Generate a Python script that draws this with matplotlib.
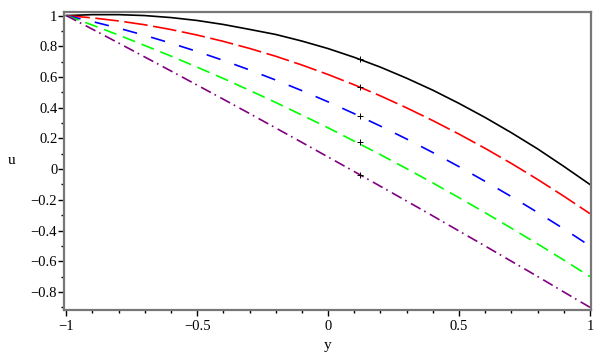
import matplotlib
matplotlib.use("Agg")
import matplotlib.pyplot as plt
from matplotlib.ticker import MultipleLocator, FixedLocator
import numpy as np

yVals = [-1.0, -0.9, -0.8, -0.7, -0.6, -0.5, -0.4, -0.3, -0.2, -0.1, 0.0,
         0.1, 0.2, 0.3, 0.4, 0.5, 0.6, 0.7, 0.8, 0.9, 1.0]

# u values for each curve
uBlack = [1.000, 1.006, 1.006, 1.000, 0.987, 0.968, 0.942, 0.910, 0.877, 0.834, 0.785,
          0.728, 0.664, 0.592, 0.514, 0.428, 0.336, 0.237, 0.132, 0.018, -0.100]
uRed = [1.000, 0.985, 0.965, 0.940, 0.909, 0.873, 0.832, 0.786, 0.735, 0.678, 0.616,
        0.549, 0.477, 0.399, 0.316, 0.228, 0.135, 0.037, -0.067, -0.176, -0.290]
uBlue = [1.000, 0.961, 0.918, 0.871, 0.820, 0.766, 0.708, 0.646, 0.580, 0.511, 0.438,
         0.361, 0.280, 0.196, 0.108, 0.016, -0.080, -0.179, -0.282, -0.389, -0.500]
uGreen = [1.000, 0.938, 0.873, 0.805, 0.736, 0.664, 0.590, 0.513, 0.434, 0.352, 0.269,
          0.182, 0.094, 0.003, -0.090, -0.186, -0.284, -0.385, -0.487, -0.592, -0.700]
uPurple = [1.000, 0.911, 0.821, 0.730, 0.639, 0.547, 0.455, 0.362, 0.268, 0.174, 0.079,
           -0.016, -0.112, -0.208, -0.305, -0.403, -0.501, -0.600, -0.699, -0.800, -0.900]

# little cross marks on each curve
markY = 0.12
markU = [0.72, 0.535, 0.345, 0.174, -0.039]

xTicks = [-1, -0.5, 0, 0.5, 1]
xTickLabels = ["\u22121", "\u22120.5", "0", "0.5", "1"]
yTicks = [-0.8, -0.6, -0.4, -0.2, 0, 0.2, 0.4, 0.6, 0.8, 1]
yTickLabels = ["\u22120.8", "\u22120.6", "\u22120.4", "\u22120.2", "0",
               "0.2", "0.4", "0.6", "0.8", "1"]

plt.rcParams['font.family'] = ['Liberation Serif', 'DejaVu Serif']
plt.rcParams['lines.scale_dashes'] = False

fig = plt.figure(figsize=(6.0, 3.53), dpi=100)
ax = fig.add_axes([0.107, 0.122, 0.878, 0.843])

lw = 1.2
ax.plot(yVals, uBlack, color='black', lw=lw)
ax.plot(yVals, uRed, color='#ff0000', lw=lw, dashes=(17, 4))
ax.plot(yVals, uBlue, color='#0000ff', lw=lw, dashes=(10.5, 10.5))
ax.plot(yVals, uGreen, color='#00ff00', lw=lw, dashes=(9.5, 5))
ax.plot(yVals, uPurple, color='#800080', lw=lw, dashes=(8, 3, 1.2, 3.5))

ax.plot([markY] * len(markU), markU, linestyle='none', marker='+',
        color='black', markersize=4.5, markeredgewidth=0.7)

# Axes limits / ticks
ax.set_xlim(-1.008, 1.004)
ax.set_ylim(-0.917, 1.021)
ax.xaxis.set_major_locator(FixedLocator(xTicks))
ax.set_xticklabels(xTickLabels)
ax.xaxis.set_minor_locator(MultipleLocator(0.1))
ax.yaxis.set_major_locator(FixedLocator(yTicks))
ax.set_yticklabels(yTickLabels)
ax.yaxis.set_minor_locator(MultipleLocator(0.1))

ax.tick_params(which='major', direction='out', length=4, width=1, color='black',
               labelsize=10.5)
ax.tick_params(which='minor', direction='out', length=2.5, width=1, color='black')
ax.tick_params(axis='y', which='major', pad=1)
ax.tick_params(axis='x', which='major', pad=3)

for side in ['left', 'bottom', 'top', 'right']:
    ax.spines[side].set_color('#777777')
    ax.spines[side].set_linewidth(1.6)

fig.text(12 / 600, 1 - 160 / 353, "u", fontsize=11, ha='center', va='center')
fig.text(328 / 600, 1 - 345 / 353, "y", fontsize=11, ha='center', va='center')

fig.savefig("out.png", dpi=100)
